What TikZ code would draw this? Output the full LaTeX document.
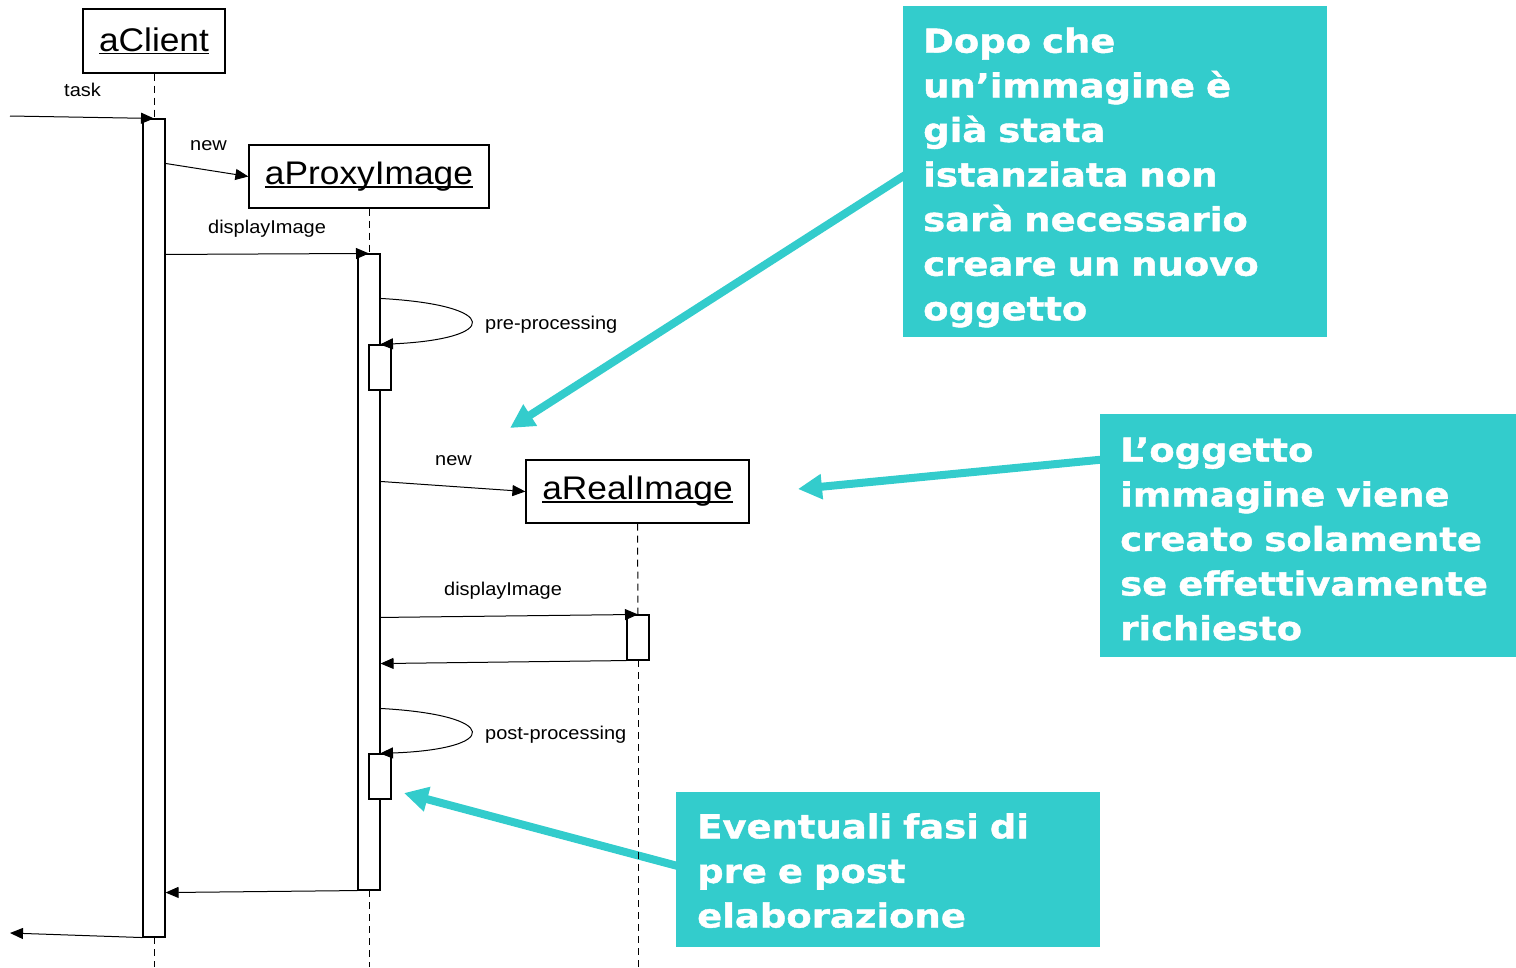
\documentclass[tikz,border=0pt]{standalone}
\usepackage{fontspec}
\usetikzlibrary{arrows.meta}
\newfontfamily\diafont[FakeStretch=1.08]{Liberation Sans}
\newfontfamily\callfont[FakeStretch=1.12,FakeBold=1.2]{DejaVu Sans}
\definecolor{calloutteal}{HTML}{33CCCC}
\newcommand\objname[1]{\setbox0\hbox{#1}\rlap{\rule[-3.2pt]{\wd0}{1.8pt}}\box0}
\pgfdeclarelayer{background}
\pgfsetlayers{background,main}
\begin{document}
\begin{tikzpicture}[x=1pt,y=-1pt,
  objbox/.style={draw, line width=1.2pt, inner sep=0pt, font=\diafont\fontsize{32.7}{36}\selectfont},
  actbar/.style={draw, fill=white, line width=1.1pt, minimum width=22pt, inner sep=0pt},
  life/.style={line width=1pt, dash pattern=on 7pt off 5pt},
  msg/.style={line width=1pt, -{Triangle[length=13pt,width=11pt]}},
  lbl/.style={anchor=base west, inner sep=0pt, font=\diafont\fontsize{18.5}{22}\selectfont},
  callbox/.style={fill=calloutteal, inner sep=0pt},
  calltext/.style={anchor=base west, inner sep=0pt, text=white, align=left, text width=430pt,
    font=\callfont\bfseries\fontsize{33}{44.6}\selectfont},
  callarrow/.style={draw=calloutteal, line width=8pt, -{Triangle[length=24pt,width=24pt]}, shorten <=-12pt}
]
\useasboundingbox (0,0) rectangle (1516,967);

% object boxes
\node[objbox, minimum width=142pt, minimum height=64pt] (client) at (154,41) {\objname{aClient}};
\node[objbox, minimum width=240pt, minimum height=63pt] (proxy) at (369,176.5) {\objname{aProxyImage}};
\node[objbox, minimum width=223pt, minimum height=63pt] (real) at (637.5,491.5) {\objname{aRealImage}};

% lifeline ends
\coordinate (cend) at (154,967);
\coordinate (pend) at (369,967);
\coordinate (rend) at (638,967);
\coordinate (cbartop) at (154,119);
\coordinate (pbartop) at (369,254);
\coordinate (rbartop) at (638,615);

\draw[life] (client.south) -- (cbartop);
\draw[life] (proxy.south) -- (pbartop);
\draw[life] (real.south) -- (rbartop);
\draw[life] (154,937) -- (cend);
\draw[life] (369,890) -- (pend);
\draw[life] (638,660) -- (rend);

% activation bars
\node[actbar, minimum height=818pt] (cbar) at (154,528) {};
\node[actbar, minimum height=636pt] (pbar) at (369,572) {};
\node[actbar, minimum height=45pt] (pre) at (380,367.5) {};
\node[actbar, minimum height=45pt] (rbar) at (638,637.5) {};
\node[actbar, minimum height=45pt] (post) at (380,776.5) {};

% messages
\coordinate (taskstart) at (10,116);
\draw[msg] (taskstart) -- (cbar.north);
\node[lbl] (ltask) at (64,96.7) {task};

\draw[msg] ([yshift=-45pt]cbar.north east) -- (proxy.west);
\node[lbl] (lnew1) at (190,150) {new};

\draw[msg] ([yshift=-136pt]cbar.north east) -- (pbar.north);
\node[lbl] (ldisp1) at (208,233) {displayImage};

\draw[msg] ([yshift=-45pt]pbar.north east) .. controls (501,305) and (501,339) .. (pre.north);
\node[lbl] (lpre) at (485,329) {pre-processing};

\draw[msg] ([yshift=-228pt]pbar.north east) -- (real.west);
\node[lbl] (lnew2) at (435,465) {new};

\draw[msg] ([yshift=-364pt]pbar.north east) -- (rbar.north);
\node[lbl] (ldisp2) at (444,595) {displayImage};

\draw[msg] (rbar.south west) -- ([yshift=-3pt]rbar.south west -| pbar.east);

\draw[msg] ([yshift=-455pt]pbar.north east) .. controls (501,715) and (501,749) .. (post.north);
\node[lbl] (lpost) at (485,739) {post-processing};

\draw[msg] (pbar.south west) -- ([yshift=-2pt]pbar.south west -| cbar.east);

\coordinate (retend) at (10,933);
\draw[msg] (cbar.south west) -- (retend);

% callouts
\node[callbox, minimum width=424pt, minimum height=331pt] (c1) at (1115,171.5) {};
\node[callbox, minimum width=416pt, minimum height=243pt] (c2) at (1308,535.5) {};
\node[callbox, minimum width=424pt, minimum height=155pt] (c3) at (888,869.5) {};

\coordinate (tip1) at (510,428);
\coordinate (tip2) at (798,489);
\coordinate (tip3) at (404,793);

\begin{pgfonlayer}{background}
\draw[callarrow] ([yshift=-5pt]c1.west) -- (tip1);
\draw[callarrow] ([yshift=-46pt]c2.north west) -- (tip2);
\draw[callarrow] ([yshift=4pt]c3.west) -- (tip3);
\end{pgfonlayer}

\node[calltext] (t1) at (923,52.7) {Dopo che\\un’immagine è\\già stata\\istanziata non\\sarà necessario\\creare un nuovo\\oggetto};
\node[calltext] (t2) at (1120,461.7) {L’oggetto\\immagine viene\\creato solamente\\se effettivamente\\richiesto};
\node[calltext] (t3) at (697,838.3) {Eventuali fasi di\\pre e post\\elaborazione};
\end{tikzpicture}
\end{document}
